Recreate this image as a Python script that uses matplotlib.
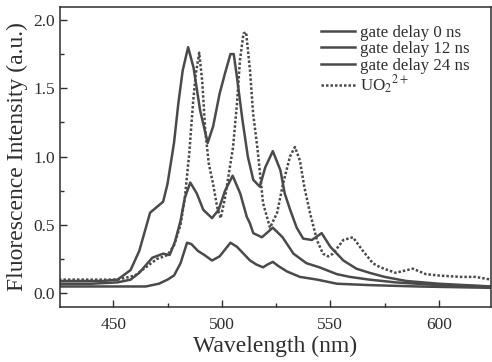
import matplotlib
matplotlib.use('Agg')
import matplotlib.pyplot as plt
from matplotlib.ticker import MultipleLocator

plt.rcParams['font.family'] = ['Liberation Serif', 'DejaVu Serif']
plt.rcParams['mathtext.fontset'] = 'stix'

INK = '#2e2e2e'
LINE = '#4a4a4a'

# gate delay 0 ns
wl_0 = [425, 435, 445, 452, 458, 462, 467, 470, 473, 475, 476.5, 478, 480, 482, 484.5,
        487, 490, 493.5, 496, 499, 501.5, 504, 505.5, 507, 509.5, 512, 514.5, 517.5,
        520, 523.5, 527, 529, 531.5, 534.5, 537.5, 541.5, 546, 550, 556, 562, 568,
        575, 585, 600, 612, 624]
int_0 = [0.09, 0.09, 0.09, 0.10, 0.17, 0.31, 0.59, 0.63, 0.67, 0.80, 0.95, 1.10, 1.39,
         1.63, 1.80, 1.65, 1.34, 1.10, 1.22, 1.46, 1.61, 1.75, 1.75, 1.58, 1.27, 1.00,
         0.83, 0.78, 0.92, 1.04, 0.90, 0.73, 0.61, 0.48, 0.40, 0.39, 0.44, 0.34, 0.24,
         0.18, 0.15, 0.12, 0.09, 0.07, 0.06, 0.05]

# gate delay 12 ns
wl_12 = [425, 440, 452, 458, 462, 468, 473, 476, 478.5, 481, 483, 485.5, 488.5, 491.5,
         495.5, 498.5, 501.5, 505, 508.5, 511.5, 513, 514.5, 518.5, 523.5, 528, 533,
         539, 545, 553, 559, 568, 580, 600, 624]
int_12 = [0.07, 0.07, 0.08, 0.10, 0.15, 0.26, 0.29, 0.28, 0.38, 0.53, 0.70, 0.81, 0.73,
          0.61, 0.55, 0.61, 0.75, 0.86, 0.73, 0.56, 0.51, 0.44, 0.41, 0.48, 0.41, 0.29,
          0.22, 0.19, 0.14, 0.12, 0.10, 0.08, 0.06, 0.05]

# gate delay 24 ns
wl_24 = [425, 440, 455, 465, 471, 475, 478, 481, 484, 486, 489, 492, 495.5, 499, 502,
         504, 507, 510, 513, 516, 519, 521, 523.5, 526, 530, 536, 544, 553, 568, 590, 624]
int_24 = [0.05, 0.05, 0.05, 0.05, 0.07, 0.10, 0.13, 0.22, 0.37, 0.36, 0.31, 0.28, 0.24,
          0.27, 0.33, 0.37, 0.34, 0.29, 0.24, 0.21, 0.19, 0.21, 0.23, 0.20, 0.16, 0.12,
          0.10, 0.07, 0.06, 0.05, 0.04]

# UO2 2+ reference
wl_uo2 = [425, 440, 452, 460, 465, 470, 475, 478, 481, 483, 485, 486.8, 488, 489.6, 491,
          492.4, 494, 496, 498, 499.5, 501.5, 504, 505.2, 507, 508.4, 510, 511.2, 513,
          514.4, 516.5, 519, 522.2, 525.5, 528.2, 531.4, 533.7, 536, 538, 540.6, 543.8,
          546.6, 549, 551.2, 556, 560.4, 565, 569.6, 573, 580, 588, 594, 600, 610, 617, 624]
int_uo2 = [0.10, 0.10, 0.10, 0.13, 0.19, 0.25, 0.28, 0.35, 0.50, 0.70, 1.02, 1.40, 1.60,
           1.76, 1.55, 1.19, 0.95, 0.80, 0.62, 0.55, 0.70, 0.95, 1.07, 1.39, 1.71, 1.90,
           1.91, 1.63, 1.32, 1.05, 0.66, 0.48, 0.59, 0.80, 1.00, 1.07, 0.97, 0.78, 0.59,
           0.39, 0.29, 0.27, 0.29, 0.39, 0.41, 0.31, 0.22, 0.19, 0.15, 0.18, 0.14, 0.13,
           0.12, 0.12, 0.10]

fig = plt.figure(figsize=(4.92, 3.62), dpi=100, facecolor='white')
ax = fig.add_axes([0.122, 0.152, 0.876, 0.829])

ax.plot(wl_0, int_0, color=LINE, lw=1.8, label='gate delay 0 ns')
ax.plot(wl_12, int_12, color=LINE, lw=1.8, label='gate delay 12 ns')
ax.plot(wl_24, int_24, color=LINE, lw=1.8, label='gate delay 24 ns')
ax.plot(wl_uo2, int_uo2, color=LINE, lw=1.8, linestyle=(0, (1, 0.8)),
        label=r'UO$_2$$^{2+}$')

ax.set_xlim(425.5, 624)
ax.set_ylim(-0.1, 2.095)
ax.xaxis.set_major_locator(MultipleLocator(50))
ax.xaxis.set_minor_locator(MultipleLocator(25))
ax.yaxis.set_major_locator(MultipleLocator(0.5))
ax.yaxis.set_minor_locator(MultipleLocator(0.25))
ax.tick_params(which='both', direction='in', colors=INK, labelsize=12.5, width=1)
ax.tick_params(which='major', length=5)
ax.tick_params(which='minor', length=3)
ax.tick_params(axis='x', pad=7)
for sp in ax.spines.values():
    sp.set_color(INK)
    sp.set_linewidth(1.1)

ax.set_xlabel('Wavelength (nm)', fontsize=17, color=INK, labelpad=2)
ax.set_ylabel('Fluorescence Intensity (a.u.)', fontsize=17, color=INK, labelpad=4)

leg = ax.legend(loc='upper left', bbox_to_anchor=(0.605, 0.94), frameon=False,
                fontsize=12.2, handlelength=2.0, handletextpad=0.3,
                labelspacing=0.02, borderpad=0, borderaxespad=0)
for t in leg.get_texts():
    t.set_color(INK)

fig.savefig('out.png', dpi=100)
